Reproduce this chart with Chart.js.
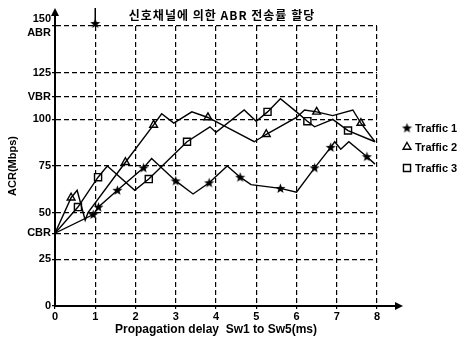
<!DOCTYPE html>
<html>
<head>
<meta charset="utf-8">
<script src="https://cdn.jsdelivr.net/npm/chart.js@4.4.1/dist/chart.umd.min.js"></script>
<style>
  html, body { margin: 0; padding: 0; background: #fff; }
  #wrap { width: 465px; height: 337px; }
</style>
</head>
<body>
<div id="wrap"><canvas id="acr"></canvas></div>
<script>
var titleText = '신호채널에 의한 ABR 전송률 할당';
var xTitle = 'Propagation delay  Sw1 to Sw5(ms)';
var yTitle = 'ACR(Mbps)';
var xTicks = [0, 1, 2, 3, 4, 5, 6, 7, 8];
var yTicks = [0, 25, 39, 50, 75, 100, 112, 125, 150];
var yTickLabels = ['0', '25', 'CBR', '50', '75', '100', 'VBR', '125', ['150', 'ABR']];
var seriesNames = ['Traffic 1', 'Traffic 2', 'Traffic 3'];

// line vertices [delay, ACR]
var traffic1Line = [[0, 39], [0.95, 49], [1.08, 53], [1.55, 62], [2.2, 74], [2.4, 79], [3.0, 67], [3.43, 60],
  [3.83, 66], [4.28, 75], [4.6, 69], [4.87, 65], [5.6, 63], [6.0, 61], [6.45, 74], [6.85, 85], [6.95, 88],
  [7.1, 84], [7.3, 88], [7.75, 80], [7.95, 76]];
var traffic2Line = [[0, 39], [0.4, 58], [0.55, 62], [0.75, 46], [0.82, 50], [1.75, 77], [2.45, 97], [2.65, 103],
  [2.95, 98], [3.4, 104], [3.8, 101], [4.95, 88], [5.25, 92], [6.0, 101], [6.2, 105], [6.5, 104], [6.9, 102],
  [7.4, 105], [7.6, 98], [7.95, 88]];
var traffic3Line = [[0, 39], [0.57, 53], [1.07, 69], [1.3, 75], [1.98, 62], [2.33, 68], [3.28, 88], [3.85, 96],
  [4.0, 93], [4.7, 105], [5.0, 99], [5.28, 104], [5.6, 111], [6.0, 104], [6.27, 99], [6.45, 96], [6.9, 100],
  [7.28, 94], [7.95, 88]];

// marked points
var traffic1Marks = [[0.95, 49], [1.08, 53], [1.55, 62], [2.2, 74], [3.0, 67], [3.83, 66], [4.6, 69], [5.6, 63],
  [6.45, 74], [6.85, 85], [7.75, 80]];
var traffic2Marks = [[0.4, 58], [1.75, 77], [2.45, 97], [3.8, 101], [5.25, 92], [6.5, 104], [7.6, 98]];
var traffic3Marks = [[0.57, 53], [1.07, 69], [2.33, 68], [3.28, 88], [5.28, 104], [6.27, 99], [7.28, 94]];
var abrMark = [[1, 150]];

function pts(list) {
  return list.map(function (p) { return { x: p[0], y: p[1] }; });
}

// small filled star for Traffic 1
var star = document.createElement('canvas');
star.width = 11; star.height = 11;
(function () {
  var c = star.getContext('2d');
  c.fillStyle = '#000';
  c.beginPath();
  for (var i = 0; i < 10; i++) {
    var r = i % 2 ? 2.2 : 5.3;
    var a = -Math.PI / 2 + i * Math.PI / 5;
    c.lineTo(5.5 + r * Math.cos(a), 5.8 + r * Math.sin(a));
  }
  c.closePath();
  c.fill();
})();

var styles = [
  { pointStyle: star, radius: 5 },
  { pointStyle: 'triangle', radius: 4.5 },
  { pointStyle: 'rect', radius: 5 }
];

function lineSet(list) {
  return {
    data: pts(list), showLine: true, borderColor: '#000', borderWidth: 1.4,
    pointRadius: 0, fill: false, tension: 0
  };
}
function markSet(label, list, s) {
  return {
    label: label, data: pts(list), showLine: false, pointStyle: s.pointStyle,
    pointRadius: s.radius, pointBorderColor: '#000', pointBackgroundColor: '#fff',
    pointBorderWidth: 1.4, clip: false
  };
}

var decor = {
  id: 'decor',
  afterDraw: function (chart) {
    var ctx = chart.ctx, a = chart.chartArea;
    var xs = chart.scales.x, ys = chart.scales.y;
    ctx.save();
    ctx.strokeStyle = '#000';
    ctx.fillStyle = '#000';
    ctx.lineWidth = 2;
    // axis arrows
    ctx.beginPath();
    ctx.moveTo(a.left, a.top); ctx.lineTo(a.left, 10);
    ctx.moveTo(a.right, a.bottom); ctx.lineTo(400, a.bottom);
    ctx.stroke();
    ctx.beginPath();
    ctx.moveTo(a.left, 8); ctx.lineTo(a.left - 4, 16); ctx.lineTo(a.left + 4, 16); ctx.closePath();
    ctx.moveTo(403, a.bottom); ctx.lineTo(395, a.bottom - 4); ctx.lineTo(395, a.bottom + 4); ctx.closePath();
    ctx.fill();
    // ABR allocation marker
    var mx = xs.getPixelForValue(abrMark[0][0]);
    var my = ys.getPixelForValue(abrMark[0][1]);
    ctx.lineWidth = 1.5;
    ctx.beginPath(); ctx.moveTo(mx, 8); ctx.lineTo(mx, my); ctx.stroke();
    ctx.drawImage(star, mx - 5.5, my - 8);

    // title
    ctx.font = 'bold 12px "Noto Sans CJK KR"';
    ctx.letterSpacing = '1px';
    ctx.textAlign = 'center';
    ctx.textBaseline = 'middle';
    ctx.fillText(titleText, 222, 15);
    ctx.letterSpacing = '0px';

    // legend
    ctx.font = 'bold 11px "Liberation Sans"';
    ctx.textAlign = 'left';
    var ly = [128, 147, 168];
    for (var i = 0; i < seriesNames.length; i++) {
      var s = styles[i];
      ctx.fillStyle = '#fff';
      ctx.strokeStyle = '#000';
      ctx.lineWidth = 1.4;
      Chart.helpers.drawPoint(ctx, { pointStyle: s.pointStyle, radius: s.radius, rotation: 0, borderWidth: 1.4 }, 407, ly[i]);
      ctx.fillStyle = '#000';
      ctx.fillText(seriesNames[i], 415, ly[i] + 1);
    }
    ctx.restore();
  }
};

var tickFont = { family: '"Liberation Sans Narrow", "Liberation Sans"', size: 11, weight: 'bold' };
var titleFont = { family: '"Liberation Sans"', size: 11, weight: 'bold' };

new Chart(document.getElementById('acr'), {
  type: 'scatter',
  data: {
    datasets: [
      lineSet(traffic1Line), lineSet(traffic2Line), lineSet(traffic3Line),
      markSet(seriesNames[0], traffic1Marks, styles[0]),
      markSet(seriesNames[1], traffic2Marks, styles[1]),
      markSet(seriesNames[2], traffic3Marks, styles[2])
    ]
  },
  options: {
    responsive: true,
    maintainAspectRatio: false,
    animation: false,
    layout: { padding: { top: 26, right: 88, left: 0, bottom: 0 } },
    plugins: { legend: { display: false }, tooltip: { enabled: false } },
    scales: {
      x: {
        type: 'linear', min: 0, max: 8,
        afterBuildTicks: function (s) { s.ticks = xTicks.map(function (v) { return { value: v }; }); },
        afterFit: function (s) { s.height = 31; },
        border: { color: '#000', width: 2, dash: [5, 3] },
        grid: { color: '#000', lineWidth: 1.2, tickLength: 3, tickBorderDash: [] },
        ticks: { color: '#000', font: tickFont, padding: 1, maxRotation: 0 },
        title: { display: true, text: xTitle, color: '#000', font: { family: '"Liberation Sans"', size: 12, weight: 'bold' }, padding: { top: 0, bottom: 0 } }
      },
      y: {
        min: 0, max: 150,
        afterBuildTicks: function (s) { s.ticks = yTicks.map(function (v) { return { value: v }; }); },
        afterFit: function (s) { s.width = 55; },
        border: { color: '#000', width: 2, dash: [5, 3] },
        grid: { color: '#000', lineWidth: 1.2, tickLength: 3, tickBorderDash: [] },
        ticks: {
          color: '#000', font: tickFont, padding: 1,
          callback: function (v) { var i = yTicks.indexOf(v); return i >= 0 ? yTickLabels[i] : ''; }
        },
        title: { display: true, text: yTitle, color: '#000', font: titleFont, padding: { top: 6, bottom: 2 } }
      }
    }
  },
  plugins: [decor]
});
</script>
</body>
</html>
